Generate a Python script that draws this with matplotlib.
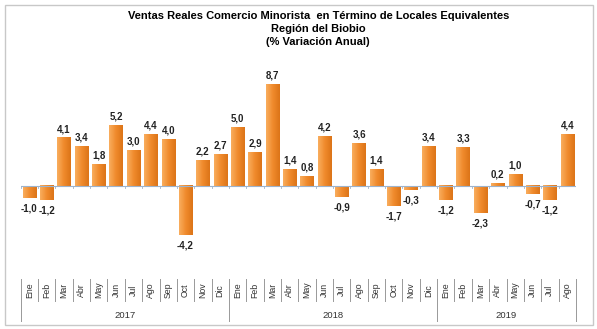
import numpy as np
import matplotlib.pyplot as plt
from matplotlib.colors import LinearSegmentedColormap
from matplotlib.patches import Rectangle
from matplotlib.transforms import blended_transform_factory

plt.rcParams['font.family'] = ['Liberation Sans', 'DejaVu Sans']

#%%
years = ['2017', '2018', '2019']
months_per_year = [12, 12, 8]
month_names = ['Ene', 'Feb', 'Mar', 'Abr', 'May', 'Jun',
               'Jul', 'Ago', 'Sep', 'Oct', 'Nov', 'Dic']

var_2017 = [-1.0, -1.2, 4.1, 3.4, 1.8, 5.2, 3.0, 4.4, 4.0, -4.2, 2.2, 2.7]
var_2018 = [5.0, 2.9, 8.7, 1.4, 0.8, 4.2, -0.9, 3.6, 1.4, -1.7, -0.3, 3.4]
var_2019 = [-1.2, 3.3, -2.3, 0.2, 1.0, -0.7, -1.2, 4.4]

values = var_2017 + var_2018 + var_2019
labels = [m for n in months_per_year for m in month_names[:n]]

#%%
fig = plt.figure(figsize=(5.97, 3.29), dpi=100)
ax = fig.add_axes([0.0347, 0.167, 0.930, 0.623])

# marco exterior del gráfico
fig.patches.append(Rectangle((0.008, 0.012), 0.985, 0.974, transform=fig.transFigure,
                             fill=False, ec='#c8c8c8', lw=1.0))

cmap = LinearSegmentedColormap.from_list('naranjo', ['#f9ae5e', '#f08a2c', '#dc7418'])
grad = np.linspace(0, 1, 64).reshape(1, -1)
w = 0.77

x = np.arange(len(values))
for xi, v in zip(x, values):
    ax.imshow(grad, extent=[xi - w / 2, xi + w / 2, 0, v], aspect='auto',
              cmap=cmap, interpolation='bilinear', zorder=2)
    txt = f'{v:.1f}'.replace('.', ',')
    if v >= 0:
        ax.annotate(txt, (xi, v), xytext=(0, 3), textcoords='offset points',
                    ha='center', va='bottom', fontsize=7, fontweight='bold', color='#222222')
    else:
        ax.annotate(txt, (xi, v), xytext=(0, -4), textcoords='offset points',
                    ha='center', va='top', fontsize=7, fontweight='bold', color='#222222')

ax.set_xlim(-0.5, len(values) - 0.5)
ax.set_ylim(-7.5, 10)
ax.axis('off')

# línea del cero con marcas entre meses
ax.axhline(0, color='#9db3cc', lw=0.8, zorder=3)
for b in np.arange(len(values) + 1) - 0.5:
    ax.plot([b, b], [0, -0.15], color='#9db3cc', lw=0.6, zorder=3)

# eje categórico de dos niveles (mes / año)
tr = blended_transform_factory(ax.transData, fig.transFigure)
for xi, lab in zip(x, labels):
    ax.text(xi, 0.118, lab, transform=tr, rotation=90, ha='center', va='center',
            fontsize=6.3, color='#333333')

bounds = np.cumsum([0] + months_per_year) - 0.5
year_edges = set(bounds)
for b in np.arange(len(values) + 1) - 0.5:
    y0 = 0.024 if b in year_edges else 0.085
    ax.plot([b, b], [0.152, y0], transform=tr, color='#999999', lw=0.7, clip_on=False)

for yr, a, b in zip(years, bounds[:-1], bounds[1:]):
    ax.text((a + b) / 2, 0.040, yr, transform=tr, ha='center', va='center',
            fontsize=6.8, color='#333333')

fig.text(0.533, 0.951, 'Ventas Reales Comercio Minorista  en Término de Locales Equivalentes',
         ha='center', va='center', fontsize=8, fontweight='bold')
fig.text(0.533, 0.912, 'Región del Biobio', ha='center', va='center', fontsize=8, fontweight='bold')
fig.text(0.533, 0.872, '(% Variación Anual)', ha='center', va='center', fontsize=8, fontweight='bold')

fig.savefig('out.png', dpi=100)
